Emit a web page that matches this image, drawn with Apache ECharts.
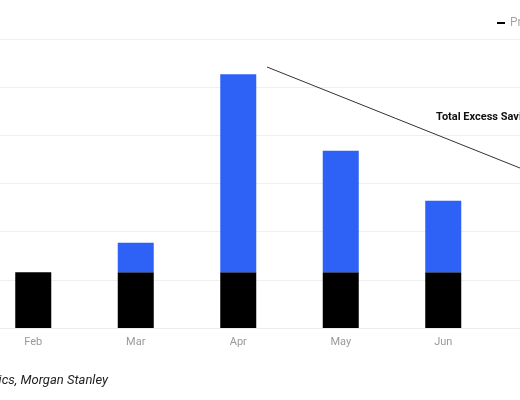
<!DOCTYPE html>
<html>
<head>
<meta charset="utf-8">
<script src="https://cdn.jsdelivr.net/npm/echarts@6/dist/echarts.min.js"></script>
<style>
  html, body { margin: 0; padding: 0; background: #fff; overflow: hidden; }
  #frame { width: 520px; height: 400px; overflow: hidden; position: relative; }
  /* the chart is wider than the window and shifted left, so only a crop is visible */
  #chart { position: absolute; left: -120px; top: 0; width: 1000px; height: 400px; }
</style>
</head>
<body>
<div id="frame"><div id="chart"></div></div>
<script>
const months = ["Feb", "Mar", "Apr", "May", "Jun", "Jul"];
const trendSavings = [116, 116, 116, 116, 116, 116];
const excessSavings = [0, 61, 411, 252, 148, 120];
const seriesNames = ["Pre-pandemic Trend Savings", "Excess Savings"];
const annotationLabel = "Total Excess Savings";
const sourceNote = "Source: Bureau of Economic Analysis, Haver Analytics, Morgan Stanley";

const chart = echarts.init(document.getElementById("chart"), null, { renderer: "canvas" });

chart.setOption({
  animation: false,
  backgroundColor: "#fff",
  textStyle: { fontFamily: "Roboto, sans-serif" },
  legend: {
    left: 617,
    top: 17,
    padding: 0,
    icon: "rect",
    itemWidth: 8,
    itemHeight: 2,
    itemGap: 20,
    textStyle: { color: "#a6a6a6", fontSize: 12 },
    data: seriesNames
  },
  grid: { left: 102, right: 283, top: 39, bottom: 72 },
  xAxis: {
    type: "category",
    data: months,
    axisTick: { show: false },
    axisLine: { lineStyle: { color: "#ececec" } },
    axisLabel: { color: "#999", fontSize: 11, margin: 9 }
  },
  yAxis: {
    type: "value",
    min: 0,
    max: 600,
    interval: 100,
    axisLabel: { show: false },
    axisLine: { show: false },
    axisTick: { show: false },
    splitLine: { lineStyle: { color: "#efefef" } }
  },
  series: [
    {
      name: seriesNames[0],
      type: "bar",
      stack: "savings",
      barWidth: 36,
      itemStyle: { color: "#000" },
      data: trendSavings
    },
    {
      name: seriesNames[1],
      type: "bar",
      stack: "savings",
      barWidth: 36,
      itemStyle: { color: "#2e62f6" },
      data: excessSavings
    }
  ],
  graphic: [
    {
      type: "line",
      z: 100,
      shape: { x1: 387, y1: 67, x2: 660, y2: 176 },
      style: { stroke: "#333", lineWidth: 1 }
    },
    {
      type: "text",
      z: 100,
      style: {
        x: 556,
        y: 117,
        text: annotationLabel,
        fontSize: 11,
        fontWeight: "bold",
        fill: "#111",
        verticalAlign: "middle",
        fontFamily: "Roboto, sans-serif"
      }
    },
    {
      type: "text",
      z: 100,
      style: {
        x: 228,
        y: 381,
        text: sourceNote,
        fontSize: 13,
        fontStyle: "italic",
        fill: "#222",
        align: "right",
        verticalAlign: "middle",
        fontFamily: "Roboto, sans-serif"
      }
    }
  ]
});
</script>
</body>
</html>
